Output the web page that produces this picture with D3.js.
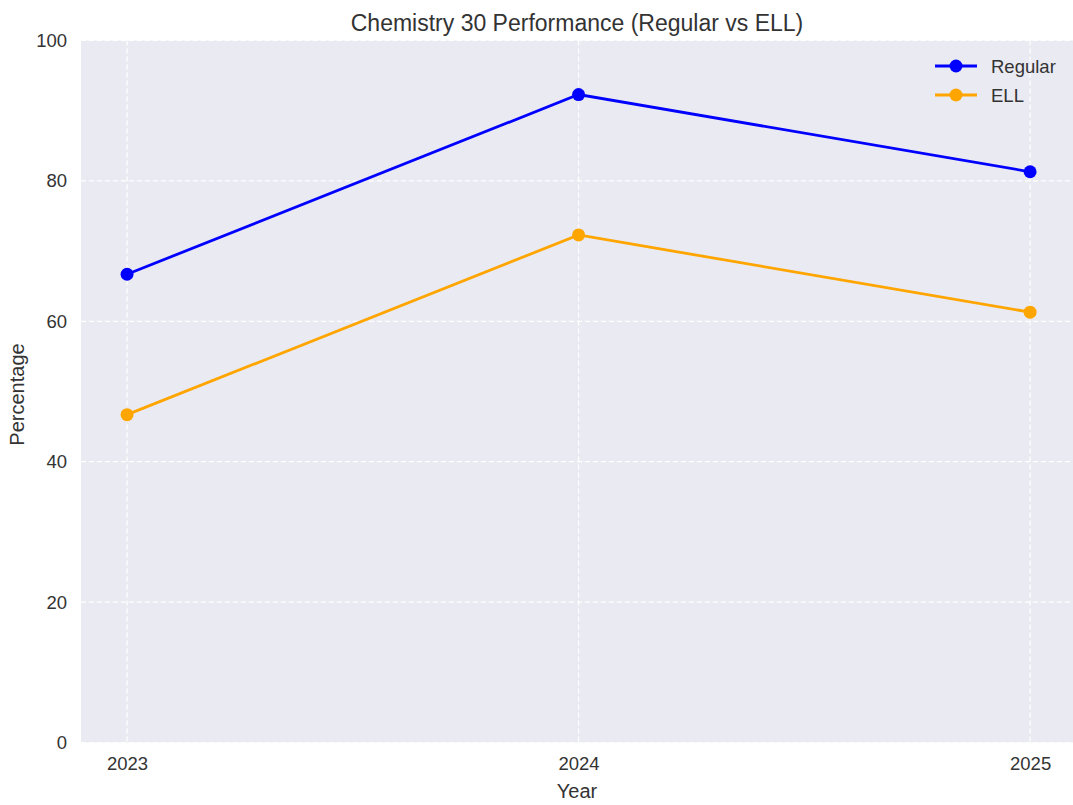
<!DOCTYPE html>
<html>
<head>
<meta charset="utf-8">
<script src="https://cdn.jsdelivr.net/npm/d3@7"></script>
<style>
  body { margin: 0; background: #fff; }
  text { font-family: "Liberation Sans", Arial, sans-serif; }
</style>
</head>
<body>
<script>
var years = [2023, 2024, 2025];
var regular = [66.7, 92.3, 81.3];
var ell = [46.7, 72.3, 61.3];
var yTicks = [0, 20, 40, 60, 80, 100];
var seriesNames = ["Regular", "ELL"];
var seriesColors = ["#0000ff", "#ffa500"];

var w = 1073, h = 805;
var margin = {left: 81, right: 0, top: 40.5, bottom: 62.5};

var svg = d3.select("body").append("svg")
    .attr("width", w)
    .attr("height", h);

var x = d3.scaleLinear()
    .domain([2022.898, 2025.095])
    .range([margin.left, w - margin.right]);
var y = d3.scaleLinear()
    .domain([0, 100])
    .range([h - margin.bottom, margin.top]);

// plot background
svg.append("rect")
    .attr("x", margin.left)
    .attr("y", margin.top)
    .attr("width", w - margin.left - margin.right)
    .attr("height", h - margin.top - margin.bottom)
    .attr("fill", "#eaeaf2");

// grid
svg.append("g").selectAll("line")
    .data(yTicks)
    .enter().append("line")
    .attr("x1", margin.left)
    .attr("x2", w - margin.right)
    .attr("y1", function(d) { return y(d); })
    .attr("y2", function(d) { return y(d); })
    .attr("stroke", "#fff")
    .attr("stroke-width", 1.2)
    .attr("stroke-dasharray", "5,3");
svg.append("g").selectAll("line")
    .data(years)
    .enter().append("line")
    .attr("x1", function(d) { return x(d); })
    .attr("x2", function(d) { return x(d); })
    .attr("y1", margin.top)
    .attr("y2", h - margin.bottom)
    .attr("stroke", "#fff")
    .attr("stroke-width", 1.2)
    .attr("stroke-dasharray", "5,3");

// axes
var xAxis = svg.append("g")
    .attr("transform", "translate(0," + (h - margin.bottom) + ")")
    .call(d3.axisBottom(x).tickValues(years).tickFormat(d3.format("d")).tickSize(0).tickPadding(14));
var yAxis = svg.append("g")
    .attr("transform", "translate(" + margin.left + ",0)")
    .call(d3.axisLeft(y).tickValues(yTicks).tickSize(0).tickPadding(14));
[xAxis, yAxis].forEach(function(a) {
    a.attr("font-size", null).attr("font-family", null);
    a.select(".domain").remove();
    a.selectAll("text").style("font-size", "18.5px").attr("fill", "#333");
});

// lines
var series = [regular, ell];
var line = d3.line()
    .x(function(d, i) { return x(years[i]); })
    .y(function(d) { return y(d); });

series.forEach(function(s, k) {
    svg.append("path")
        .datum(s)
        .attr("d", line)
        .attr("fill", "none")
        .attr("stroke", seriesColors[k])
        .attr("stroke-width", 2.8);
    svg.append("g").selectAll("circle")
        .data(s)
        .enter().append("circle")
        .attr("cx", function(d, i) { return x(years[i]); })
        .attr("cy", function(d) { return y(d); })
        .attr("r", 6.5)
        .attr("fill", seriesColors[k]);
});

// legend
var legend = svg.append("g").attr("transform", "translate(935,66)");
seriesNames.forEach(function(n, k) {
    var g = legend.append("g").attr("transform", "translate(0," + (k * 29) + ")");
    g.append("line").attr("x1", 0).attr("x2", 42).attr("y1", 0).attr("y2", 0)
        .attr("stroke", seriesColors[k]).attr("stroke-width", 2.8);
    g.append("circle").attr("cx", 21).attr("cy", 0).attr("r", 6.5).attr("fill", seriesColors[k]);
    g.append("text").attr("x", 56).attr("y", 6.5).style("font-size", "18.5px").attr("fill", "#333").text(n);
});

// title and labels
svg.append("text")
    .attr("x", (margin.left + w - margin.right) / 2)
    .attr("y", 31)
    .attr("text-anchor", "middle")
    .style("font-size", "23px")
    .attr("fill", "#333")
    .text("Chemistry 30 Performance (Regular vs ELL)");
svg.append("text")
    .attr("x", (margin.left + w - margin.right) / 2)
    .attr("y", 798)
    .attr("text-anchor", "middle")
    .style("font-size", "20px")
    .attr("fill", "#333")
    .text("Year");
svg.append("text")
    .attr("transform", "translate(24," + ((margin.top + h - margin.bottom) / 2 + 3) + ") rotate(-90)")
    .attr("text-anchor", "middle")
    .style("font-size", "20px")
    .attr("fill", "#333")
    .text("Percentage");
</script>
</body>
</html>
